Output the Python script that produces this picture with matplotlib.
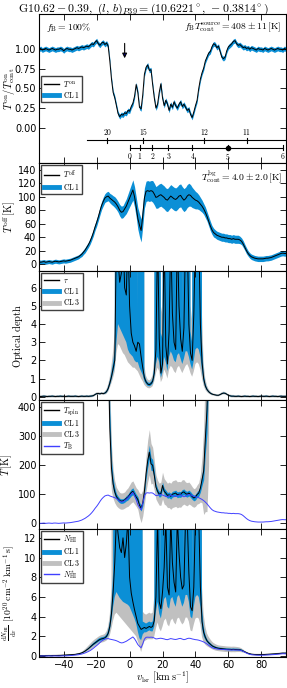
import numpy as np
import matplotlib
matplotlib.use('Agg')
import matplotlib.pyplot as plt
from matplotlib.lines import Line2D

plt.rcParams['mathtext.fontset'] = 'cm'
plt.rcParams['font.family'] = 'DejaVu Sans'

# ============================================================
#  data
# ============================================================
vel = np.arange(-55, 96)          # km/s, 1 km/s channels

# Ton / Ton_cont
ratio = [
    1.00, 1.01, 0.99, 1.00, 1.01, 1.00, 0.99, 1.00, 1.01, 1.00,   # -55
    0.99, 1.00, 1.00, 1.01, 1.00, 0.98, 1.00, 1.01, 1.00, 1.00,   # -45
    0.99, 1.00, 1.01, 1.02, 1.01, 1.02, 1.03, 1.02, 1.03, 1.04,   # -35
    1.03, 1.05, 1.07, 1.06, 1.09, 1.11, 1.07, 1.05, 1.08, 1.09,   # -25
    1.06, 1.08, 1.04, 0.85, 0.62, 0.45, 0.38, 0.28, 0.18, 0.14,   # -15
    0.17, 0.16, 0.19, 0.18, 0.22, 0.21, 0.27, 0.31, 0.40, 0.55,   # -5
    0.45, 0.26, 0.24, 0.42, 0.68, 0.77, 0.80, 0.73, 0.74, 0.55,   # 5
    0.38, 0.25, 0.30, 0.45, 0.56, 0.38, 0.28, 0.35, 0.30, 0.22,   # 15
    0.30, 0.26, 0.33, 0.28, 0.25, 0.30, 0.33, 0.27, 0.30, 0.26,   # 25
    0.22, 0.24, 0.17, 0.13, 0.20, 0.28, 0.35, 0.50, 0.62, 0.70,   # 35
    0.76, 0.85, 0.90, 0.95, 0.97, 1.03, 1.07, 1.06, 1.02, 1.04,   # 45
    0.97, 0.90, 0.88, 0.90, 0.98, 1.03, 1.05, 1.07, 1.10, 1.11,   # 55
    1.07, 1.05, 1.06, 1.04, 1.02, 1.03, 1.01, 1.02, 1.00, 1.02,   # 65
    1.01, 1.00, 0.99, 1.01, 1.00, 1.00, 0.99, 1.01, 1.00, 0.99,   # 75
    1.00, 1.01, 1.00, 0.99, 1.00, 1.01, 1.00, 1.00, 0.99, 1.01,   # 85
    1.00,
]
ratio_cl1 = 0.03

# Toff [K] and its CL1 half width
toff = [
    3.5, 3.0, 3.5, 4.0, 3.0, 3.5, 4.0, 3.5, 3.0, 4.0,
    4.5, 4.0, 3.5, 4.0, 4.5, 5.0, 4.5, 5.0, 5.5, 6.0,
    7.0, 8.0, 9.0, 10, 11, 13, 15, 18, 21, 25,
    29, 34, 40, 47, 55, 62, 70, 79, 87, 93,
    98, 100, 101, 98, 96, 94, 92, 89, 85, 80,
    77, 78, 82, 86, 92, 98, 104, 110, 100, 85,
    68, 58, 50, 72, 98, 108, 109, 108, 109, 108,
    104, 99, 100, 102, 103, 101, 99, 96, 95, 98,
    101, 99, 97, 96, 98, 101, 102, 98, 95, 97,
    101, 103, 102, 99, 97, 95, 94, 92, 89, 86,
    82, 77, 71, 64, 57, 51, 47, 45, 43, 42,
    41, 40, 40, 39, 39, 38, 38, 37, 38, 37,
    37, 37, 36, 34, 30, 25, 20, 16, 13, 11,
    10, 9, 8.5, 8, 8, 8, 8, 8.5, 9, 9,
    9.5, 10, 11, 12, 13, 14, 15, 16, 16.5, 16,
    16,
]
toff_cl1 = [
    3, 3, 3, 3, 3, 3, 3, 3, 3, 3,
    3, 3, 3, 3, 3, 3, 3, 3, 3, 3,
    3, 3, 3, 3, 3, 3, 3.5, 3.5, 4, 4,
    4, 4.5, 4.5, 5, 5, 5.5, 5.5, 6, 6, 6.5,
    6.5, 7, 7, 7, 7.5, 7.5, 8, 8, 8, 8.5,
    9, 9, 10, 11, 12, 13, 14, 15, 15, 15,
    16, 17, 17, 16, 15, 15, 15, 15, 15, 16,
    16, 16, 17, 17, 17, 17, 17, 17, 17, 17,
    17, 17, 17, 17, 17, 17, 17, 17, 17, 17,
    17, 17, 16, 15, 14, 13, 12, 11, 10, 9,
    8, 8, 7, 7, 7, 6.5, 6.5, 6, 6, 6,
    6, 6, 6, 6, 6, 6, 6, 6, 6, 6,
    6, 6, 5.5, 5, 5, 4.5, 4.5, 4, 4, 4,
    4, 4, 4, 4, 4, 4, 4, 4, 4, 4,
    4, 4, 4, 4, 4, 4, 4, 4, 4, 4,
    4,
]
tcont_bg = 4.0

# brightness temperature T_B [K]
tb = [
    0.0, -0.5, 0.0, 0.5, -0.5, 0.0, 0.5, 0.0, -0.5, 0.5,
    0.5, 0.0, -0.5, 0.0, 0.5, 1.0, 0.5, 1.0, 1.5, 2.0,
    3.0, 4.0, 5.0, 6.0, 7.0, 9.0, 11, 14, 17, 21,
    25, 30, 36, 43, 51, 58, 66, 75, 83, 89,
    94, 96, 97, 94, 92, 90, 88, 85, 81, 76,
    73, 74, 78, 82, 88, 94, 100, 106, 96, 81,
    64, 54, 46, 68, 94, 104, 105, 104, 105, 104,
    100, 95, 96, 98, 99, 97, 95, 92, 91, 94,
    97, 95, 93, 92, 94, 97, 98, 94, 91, 93,
    97, 99, 98, 95, 93, 91, 90, 88, 85, 82,
    78, 73, 67, 60, 53, 47, 43, 41, 39, 38,
    37, 36, 36, 35, 35, 34, 34, 33, 34, 33,
    33, 33, 32, 30, 26, 21, 16, 12, 9, 7,
    6, 5, 4.5, 4, 4, 4, 4, 4.5, 5, 5,
    5.5, 6, 7, 8, 9, 10, 11, 12, 12.5, 12,
    12,
]

# optical depth (values >= 9 are off the top of the panel)
tau = [
    0.02, 0.01, 0.02, 0.03, 0.02, 0.01, 0.02, 0.02, 0.03, 0.02,
    0.01, 0.02, 0.02, 0.03, 0.02, 0.02, 0.01, 0.02, 0.03, 0.02,
    0.02, 0.02, 0.03, 0.02, 0.01, 0.02, 0.03, 0.02, 0.02, 0.03,
    0.02, 0.03, 0.04, 0.06, 0.12, 0.17, 0.18, 0.16, 0.19, 0.17,
    0.20, 0.28, 0.45, 0.75, 1.10, 1.55, 2.00, 9.0, 7.5, 6.3,
    6.8, 9.0, 6.0, 5.6, 9.0, 5.0, 3.5, 3.0, 2.8, 2.5,
    3.0, 2.9, 2.2, 1.6, 1.05, 0.82, 0.70, 0.66, 0.72, 0.85,
    1.30, 2.60, 9.0, 3.2, 1.3, 1.8, 9.0, 2.8, 1.8, 3.6,
    9.0, 4.6, 3.0, 2.6, 9.0, 5.0, 3.2, 2.5, 3.8, 9.0,
    9.0, 4.0, 2.4, 2.0, 4.5, 9.0, 9.0, 9.0, 4.0, 1.9,
    1.0, 0.6, 0.4, 0.28, 0.2, 0.15, 0.12, 0.10, 0.08, 0.08,
    0.12, 0.17, 0.20, 0.19, 0.14, 0.08, 0.05, 0.03, 0.03, 0.02,
    0.02, 0.03, 0.02, 0.01, 0.02, 0.03, 0.02, 0.02, 0.01, 0.02,
    0.03, 0.02, 0.02, 0.01, 0.02, 0.03, 0.02, 0.02, 0.03, 0.02,
    0.01, 0.02, 0.03, 0.02, 0.02, 0.01, 0.02, 0.03, 0.02, 0.02,
    0.02,
]
tau_cl1_wing, tau_cl3_wing = 0.03, 0.07
vtau_core = np.arange(-20, 61)   # channels with individually read bands (99 = saturated)
tau_lo1_core = [
    0.14, 0.15, 0.13, 0.16, 0.14, 0.16, 0.22, 0.36, 0.62, 0.92,
    1.30, 1.70, 3.0, 4.0, 3.8, 3.6, 3.4, 3.2, 3.0, 2.6,
    2.4, 2.3, 2.2, 2.0, 1.9, 1.9, 1.6, 1.4, 1.2, 0.85,
    0.70, 0.60, 0.57, 0.62, 0.72, 1.05, 1.8, 2.2, 1.9, 1.05,
    1.35, 2.2, 1.9, 1.4, 2.2, 2.5, 2.3, 2.0, 1.9, 2.3,
    2.4, 2.1, 1.8, 2.1, 2.5, 2.5, 2.2, 1.8, 1.5, 2.0,
    2.6, 2.7, 2.6, 2.2, 1.4, 0.8, 0.5, 0.34, 0.24, 0.17,
    0.12, 0.10, 0.08, 0.06, 0.06, 0.10, 0.14, 0.17, 0.16, 0.12,
    0.06,
]
tau_hi1_core = [
    0.20, 0.21, 0.19, 0.22, 0.20, 0.24, 0.34, 0.55, 0.90, 1.35,
    1.9, 2.6, 99, 99, 99, 99, 99, 99, 99, 99,
    99, 99, 99, 99, 99, 4.5, 99, 99, 99, 1.3,
    0.95, 0.80, 0.76, 0.83, 1.0, 1.7, 99, 99, 99, 3.5,
    3.2, 99, 99, 99, 99, 99, 99, 99, 3.8, 99,
    99, 99, 3.5, 99, 99, 99, 99, 3.6, 3.0, 99,
    99, 99, 99, 99, 3.0, 1.3, 0.75, 0.48, 0.33, 0.24,
    0.18, 0.14, 0.12, 0.10, 0.10, 0.14, 0.20, 0.23, 0.22, 0.17,
    0.10,
]
tau_lo3_core = [
    0.10, 0.11, 0.09, 0.12, 0.10, 0.12, 0.16, 0.28, 0.50, 0.75,
    1.05, 1.40, 2.4, 2.9, 2.8, 2.6, 2.4, 2.3, 2.1, 1.9,
    1.8, 1.7, 1.6, 1.6, 1.5, 1.4, 1.2, 1.0, 0.85, 0.65,
    0.55, 0.48, 0.46, 0.50, 0.58, 0.85, 1.3, 1.6, 1.4, 0.8,
    1.0, 1.5, 1.3, 1.0, 1.5, 1.7, 1.6, 1.4, 1.3, 1.6,
    1.7, 1.5, 1.3, 1.5, 1.7, 1.8, 1.6, 1.3, 1.1, 1.4,
    1.8, 1.9, 1.8, 1.5, 1.0, 0.6, 0.38, 0.26, 0.18, 0.12,
    0.08, 0.06, 0.04, 0.02, 0.02, 0.06, 0.10, 0.13, 0.12, 0.08,
    0.03,
]
tau_hi3_core = [
    0.24, 0.25, 0.23, 0.26, 0.24, 0.29, 0.42, 0.68, 1.1, 1.7,
    2.5, 3.5, 99, 99, 99, 99, 99, 99, 99, 99,
    99, 99, 99, 99, 99, 6.0, 99, 99, 99, 1.7,
    1.15, 0.95, 0.90, 0.98, 1.2, 2.2, 99, 99, 99, 5.0,
    4.5, 99, 99, 99, 99, 99, 99, 99, 5.0, 99,
    99, 99, 4.8, 99, 99, 99, 99, 5.0, 4.2, 99,
    99, 99, 99, 99, 4.5, 1.8, 1.0, 0.62, 0.42, 0.30,
    0.22, 0.18, 0.16, 0.14, 0.14, 0.18, 0.25, 0.28, 0.26, 0.21,
    0.13,
]

# spin temperature [K] with CL1 / CL3 half widths
vspin = np.arange(-13, 49)
tspin = [
    600, 330, 190, 135, 108, 92, 84, 78, 76, 77,
    80, 86, 90, 98, 106, 110, 100, 90, 82, 62,
    52, 70, 110, 170, 215, 245, 205, 200, 165, 125,
    110, 100, 102, 130, 110, 104, 96, 98, 93, 100,
    102, 104, 98, 100, 99, 106, 108, 102, 100, 104,
    99, 92, 87, 90, 99, 104, 121, 150, 180, 290,
    390, 600,
]
tspin_cl1 = [
    100, 60, 30, 20, 14, 10, 9, 8, 8, 8,
    8, 9, 10, 11, 12, 12, 11, 10, 10, 10,
    10, 10, 13, 18, 22, 24, 22, 20, 16, 12,
    10, 10, 10, 12, 11, 10, 10, 10, 10, 10,
    10, 10, 10, 10, 10, 10, 10, 10, 10, 10,
    10, 10, 10, 10, 10, 11, 14, 20, 30, 50,
    80, 100,
]
tspin_cl3 = [
    200, 140, 80, 50, 38, 32, 30, 28, 28, 28,
    28, 30, 32, 34, 36, 36, 34, 32, 34, 42,
    50, 45, 45, 60, 72, 78, 70, 62, 52, 42,
    38, 38, 40, 46, 44, 42, 42, 44, 45, 46,
    46, 46, 45, 44, 44, 44, 42, 40, 40, 38,
    36, 34, 32, 32, 33, 36, 48, 80, 150, 250,
    350, 400,
]

# dN_HI/dv [1e20 cm^-2 km^-1 s]
nhi = [
    0.02, 0.02, 0.03, 0.02, 0.03, 0.03, 0.04, 0.03, 0.04, 0.05,
    0.05, 0.05, 0.06, 0.06, 0.07, 0.07, 0.08, 0.09, 0.10, 0.11,
    0.12, 0.14, 0.16, 0.19, 0.22, 0.26, 0.32, 0.40, 0.50, 0.62,
    0.75, 0.90, 1.05, 1.20, 1.32, 1.45, 1.58, 1.68, 1.74, 1.78,
    1.85, 2.00, 2.30, 3.00, 4.30, 6.50, 9.50, 14.0, 12.4, 11.0,
    10.5, 12.0, 10.0, 11.4, 14.0, 8.0, 6.4, 5.5, 4.7, 4.0,
    3.3, 3.0, 2.7, 2.8, 2.9, 2.8, 2.9, 3.0, 2.9, 3.0,
    3.6, 6.0, 14.0, 5.5, 4.8, 6.5, 9.0, 14.0, 7.0, 6.2,
    14.0, 9.5, 7.5, 6.5, 14.0, 10.5, 8.0, 6.8, 7.2, 14.0,
    14.0, 8.5, 5.0, 4.6, 7.0, 14.0, 14.0, 14.0, 7.0, 3.5,
    2.4, 1.9, 1.55, 1.35, 1.2, 1.05, 0.95, 0.88, 0.82, 0.78,
    0.76, 0.74, 0.72, 0.70, 0.68, 0.68, 0.67, 0.66, 0.67, 0.66,
    0.66, 0.65, 0.63, 0.58, 0.50, 0.42, 0.34, 0.27, 0.22, 0.18,
    0.16, 0.15, 0.14, 0.14, 0.14, 0.14, 0.15, 0.15, 0.16, 0.16,
    0.17, 0.18, 0.19, 0.20, 0.22, 0.24, 0.26, 0.28, 0.29, 0.29,
    0.29,
]
nhi_cl1_wing, nhi_cl3_wing = 0.03, 0.08
vnhi_core = np.arange(-30, 71)
nhi_lo1_core = [
    0.22, 0.28, 0.35, 0.44, 0.55, 0.67, 0.80, 0.93, 1.07, 1.18,
    1.30, 1.42, 1.52, 1.58, 1.62, 1.70, 1.83, 2.05, 2.6, 3.6,
    5.0, 6.0, 6.5, 6.2, 5.9, 5.7, 5.5, 5.4, 5.3, 5.2,
    5.0, 4.6, 4.2, 3.8, 3.3, 2.5, 1.8, 1.6, 2.2, 2.4,
    2.4, 2.5, 2.6, 2.5, 2.5, 3.0, 4.5, 5.5, 4.3, 3.8,
    4.8, 5.8, 6.0, 5.0, 4.8, 5.8, 6.0, 5.4, 5.0, 6.0,
    6.2, 5.6, 5.0, 5.4, 6.2, 6.2, 5.5, 4.0, 3.8, 5.0,
    6.0, 6.2, 6.0, 5.0, 2.8, 2.0, 1.65, 1.40, 1.22, 1.08,
    0.94, 0.85, 0.79, 0.73, 0.69, 0.67, 0.65, 0.63, 0.61, 0.59,
    0.59, 0.58, 0.57, 0.58, 0.57, 0.57, 0.56, 0.54, 0.49, 0.42,
    0.38,
]
nhi_hi1_core = [
    0.30, 0.36, 0.45, 0.56, 0.69, 0.83, 1.00, 1.17, 1.33, 1.46,
    1.60, 1.74, 1.84, 1.90, 1.94, 2.00, 2.20, 2.60, 3.5, 5.2,
    8.5, 99, 99, 99, 99, 99, 99, 99, 99, 99,
    99, 99, 99, 99, 99, 99, 99, 99, 3.5, 3.4,
    3.3, 3.4, 3.5, 3.4, 3.5, 4.5, 99, 99, 99, 7.0,
    99, 99, 99, 99, 99, 99, 99, 99, 9.0, 99,
    99, 99, 99, 9.5, 99, 99, 99, 99, 7.5, 99,
    99, 99, 99, 99, 5.0, 3.0, 2.2, 1.75, 1.50, 1.33,
    1.16, 1.05, 0.97, 0.91, 0.87, 0.85, 0.83, 0.81, 0.79, 0.77,
    0.77, 0.76, 0.75, 0.76, 0.75, 0.75, 0.74, 0.72, 0.67, 0.58,
    0.46,
]
nhi_lo3_core = [
    0.17, 0.21, 0.26, 0.32, 0.39, 0.48, 0.60, 0.72, 0.85, 0.97,
    1.08, 1.20, 1.30, 1.36, 1.40, 1.47, 1.57, 1.75, 2.1, 2.8,
    3.6, 4.2, 4.4, 4.2, 4.0, 3.8, 3.6, 3.4, 3.2, 3.0,
    2.8, 2.6, 2.4, 2.2, 2.0, 1.5, 1.0, 0.4, 1.0, 1.5,
    1.6, 1.7, 1.7, 1.7, 1.7, 2.0, 2.8, 3.4, 2.8, 2.5,
    3.0, 3.6, 3.8, 3.2, 3.0, 3.6, 3.8, 3.4, 3.2, 3.8,
    3.9, 3.5, 3.2, 3.4, 3.9, 3.9, 3.5, 2.6, 2.5, 3.2,
    3.8, 3.9, 3.8, 3.2, 1.9, 1.4, 1.15, 1.00, 0.90, 0.80,
    0.70, 0.62, 0.56, 0.52, 0.49, 0.47, 0.45, 0.43, 0.41, 0.40,
    0.40, 0.39, 0.38, 0.39, 0.38, 0.40, 0.40, 0.40, 0.38, 0.34,
    0.32,
]
nhi_hi3_core = [
    0.35, 0.43, 0.55, 0.70, 0.87, 1.05, 1.22, 1.40, 1.56, 1.70,
    1.82, 1.95, 2.05, 2.12, 2.16, 2.25, 2.50, 3.00, 4.2, 7.0,
    99, 99, 99, 99, 99, 99, 99, 99, 99, 99,
    99, 99, 99, 99, 99, 99, 99, 99, 4.5, 4.3,
    4.2, 4.3, 4.4, 4.3, 4.4, 6.0, 99, 99, 99, 9.5,
    99, 99, 99, 99, 99, 99, 99, 99, 11.5, 99,
    99, 99, 99, 12.0, 99, 99, 99, 99, 10.0, 99,
    99, 99, 99, 99, 7.0, 4.2, 3.0, 2.3, 1.95, 1.70,
    1.48, 1.32, 1.22, 1.14, 1.08, 1.05, 1.03, 1.01, 0.99, 0.97,
    0.96, 0.95, 0.94, 0.95, 0.94, 0.92, 0.90, 0.86, 0.78, 0.66,
    0.52,
]
NHI_CONV = 1.823e-2   # N_HI [1e20] per (K km/s), optically thin

# kinematic distance scales drawn in the top panel
r_gal_ticks = [20, 15, 12, 11]
r_gal_vel = [-13.6, 8.4, 45.5, 71.2]
r_gal_start = -25.6
dist_ticks = [0, 1, 2, 3, 4, 5, 6]
dist_vel = [0.0, 6.1, 13.8, 23.6, 38.2, 59.6, 93.1]
dist_source = 5

title = (r'${\rm G10.62-0.39},\ (l,\,b)_{P39}=(10.6221^\circ,\,-0.3814^\circ)$')

# ============================================================
#  plot
# ============================================================
C_CL1 = '#0b8fd6'
C_CL3 = '#c0c0c0'
C_TB = '#4040ff'


def band(core_v, core_vals, base, wing):
    out = np.asarray(base, float) + wing
    idx = np.searchsorted(vel, core_v)
    out[idx] = core_vals
    return out


ratio = np.array(ratio)
toff = np.array(toff)
toff_cl1 = np.array(toff_cl1)
tau = np.array(tau)
nhi = np.array(nhi)
tspin = np.array(tspin, float)
tspin_cl1 = np.array(tspin_cl1, float)
tspin_cl3 = np.array(tspin_cl3, float)

tau_lo1 = band(vtau_core, tau_lo1_core, tau, -tau_cl1_wing)
tau_hi1 = band(vtau_core, tau_hi1_core, tau, tau_cl1_wing)
tau_lo3 = band(vtau_core, tau_lo3_core, tau, -tau_cl3_wing)
tau_hi3 = band(vtau_core, tau_hi3_core, tau, tau_cl3_wing)
nhi_lo1 = band(vnhi_core, nhi_lo1_core, nhi, -nhi_cl1_wing)
nhi_hi1 = band(vnhi_core, nhi_hi1_core, nhi, nhi_cl1_wing)
nhi_lo3 = band(vnhi_core, nhi_lo3_core, nhi, -nhi_cl3_wing)
nhi_hi3 = band(vnhi_core, nhi_hi3_core, nhi, nhi_cl3_wing)
nhi_star = NHI_CONV * np.array(tb)

fig = plt.figure(figsize=(2.87, 6.88), dpi=100)
left, width = 0.136, 0.8605
bounds = [(0.7631, 0.2166), (0.6061, 0.1570), (0.4186, 0.1875),
          (0.2311, 0.1875), (0.0451, 0.1860)]
axes = [fig.add_axes([left, b, width, h]) for b, h in bounds]

for ax in axes:
    ax.set_xlim(-55, 95)
    ax.set_xticks(np.arange(-40, 81, 20))
    ax.tick_params(direction='in', top=True, right=True, length=4,
                   width=0.6, labelsize=7, pad=2)
    for sp in ax.spines.values():
        sp.set_linewidth(0.8)
    if ax is not axes[-1]:
        ax.set_xticklabels([])

leg_kw = dict(loc='upper left', fontsize=5.5, frameon=True, fancybox=False,
              edgecolor='0.25', framealpha=1, handlelength=1.9,
              borderpad=0.35, labelspacing=0.15, handletextpad=0.6,
              borderaxespad=0.3)
h_cl1 = Line2D([], [], color=C_CL1, lw=3.5)
h_cl3 = Line2D([], [], color=C_CL3, lw=3.5)

# --- panel 1: Ton / Ton_cont
ax = axes[0]
ax.fill_between(vel, ratio - ratio_cl1, ratio + ratio_cl1, color=C_CL1, lw=0)
ax.plot(vel, ratio, 'k-', lw=0.7)
ax.set_ylim(-0.45, 1.45)
ax.set_yticks([0, 0.25, 0.5, 0.75, 1.0])
ax.set_yticklabels(['0.00', '0.25', '0.50', '0.75', '1.00'])
ax.set_ylabel(r'$T^{\rm on}/T^{\rm on}_{\rm cont}$', fontsize=7.5)
ax.yaxis.set_label_coords(-0.09, 0.5)
ax.text(0.03, 0.955, r'$f_{\rm B}=100\%$', transform=ax.transAxes,
        fontsize=7, ha='left', va='top')
ax.text(0.98, 0.955, r'$f_{\rm B}T^{\rm source}_{\rm cont}=408\pm11\,[{\rm K}]$',
        transform=ax.transAxes, fontsize=7, ha='right', va='top')
ax.annotate('', xy=(-3, 0.85), xytext=(-3, 1.11),
            arrowprops=dict(arrowstyle='-|>', color='k', lw=0.8,
                            fc='navy', mutation_scale=7))
ax.legend([Line2D([], [], color='k', lw=1), h_cl1],
          [r'$T^{\rm on}$', r'${\rm CL\,1}$'],
          bbox_to_anchor=(0.0, 0.6), **leg_kw)
# distance scales
y1, y2, tk = -0.16, -0.257, 0.03
ax.plot([r_gal_start, 95], [y1, y1], 'k-', lw=0.8)
for lab, v in zip(r_gal_ticks, r_gal_vel):
    ax.plot([v, v], [y1 - tk, y1 + tk], 'k-', lw=0.8)
    ax.text(v, y1 + 0.045, r'$%d$' % lab, fontsize=5.5, ha='center', va='bottom')
ax.plot([dist_vel[0], dist_vel[-1]], [y2, y2], 'k-', lw=0.8)
for lab, v in zip(dist_ticks, dist_vel):
    ax.plot([v, v], [y2 - tk, y2 + tk], 'k-', lw=0.8)
    ax.text(v, y2 - 0.045, r'$%d$' % lab, fontsize=5.5, ha='center', va='top')
ax.plot(dist_vel[dist_source], y2, 'ko', ms=3)

# --- panel 2: Toff
ax = axes[1]
ax.fill_between(vel, toff - toff_cl1, toff + toff_cl1, color=C_CL1, lw=0)
ax.plot(vel, toff, 'k-', lw=0.7)
ax.set_ylim(-10, 150)
ax.set_yticks(np.arange(0, 141, 20))
ax.set_ylabel(r'$T^{\rm off}\,[{\rm K}]$', fontsize=7.5)
ax.yaxis.set_label_coords(-0.085, 0.5)
ax.text(0.985, 0.94, r'$T^{\rm bg}_{\rm cont}=4.0\pm2.0\,[{\rm K}]$',
        transform=ax.transAxes, fontsize=7, ha='right', va='top')
ax.legend([Line2D([], [], color='k', lw=1), h_cl1],
          [r'$T^{\rm off}$', r'${\rm CL\,1}$'], **leg_kw)

# --- panel 3: optical depth
ax = axes[2]
ax.fill_between(vel, tau_lo3, tau_hi3, color=C_CL3, lw=0)
ax.fill_between(vel, tau_lo1, tau_hi1, color=C_CL1, lw=0)
ax.plot(vel, tau, 'k-', lw=0.7)
ax.set_ylim(-0.18, 6.92)
ax.set_yticks(np.arange(0, 7, 1))
ax.set_ylabel(r'${\rm Optical\ depth}$', fontsize=7.5)
ax.yaxis.set_label_coords(-0.055, 0.5)
ax.legend([Line2D([], [], color='k', lw=1), h_cl1, h_cl3],
          [r'$\tau$', r'${\rm CL\,1}$', r'${\rm CL\,3}$'], **leg_kw)

# --- panel 4: temperatures
ax = axes[3]
ax.fill_between(vspin, tspin - tspin_cl3, tspin + tspin_cl3, color=C_CL3, lw=0)
ax.fill_between(vspin, tspin - tspin_cl1, tspin + tspin_cl1, color=C_CL1, lw=0)
ax.plot(vspin, tspin, 'k-', lw=0.7)
ax.plot(vel, tb, '-', color=C_TB, lw=0.7)
ax.set_ylim(-20, 425)
ax.set_yticks(np.arange(0, 401, 100))
ax.set_ylabel(r'$T\,[{\rm K}]$', fontsize=7.5)
ax.yaxis.set_label_coords(-0.1, 0.5)
ax.legend([Line2D([], [], color='k', lw=1), h_cl1, h_cl3,
           Line2D([], [], color=C_TB, lw=1)],
          [r'$T_{\rm spin}$', r'${\rm CL\,1}$', r'${\rm CL\,3}$', r'$T_{\rm B}$'],
          **leg_kw)

# --- panel 5: column density
ax = axes[4]
ax.fill_between(vel, nhi_lo3, nhi_hi3, color=C_CL3, lw=0)
ax.fill_between(vel, nhi_lo1, nhi_hi1, color=C_CL1, lw=0)
ax.plot(vel, nhi, 'k-', lw=0.7)
ax.plot(vel, nhi_star, '-', color=C_TB, lw=0.7)
ax.set_ylim(-0.1, 12.9)
ax.set_yticks(np.arange(0, 13, 2))
ax.set_ylabel(r'$\frac{{\rm d}N_{\rm HI}}{{\rm d}v}\ [10^{20}\,{\rm cm}^{-2}\,{\rm km}^{-1}\,{\rm s}]$',
              fontsize=7)
ax.yaxis.set_label_coords(-0.08, 0.5)
ax.set_xlabel(r'$v_{\rm lsr}\ [{\rm km\,s}^{-1}]$', fontsize=7.5, labelpad=0.5)
ax.legend([Line2D([], [], color='k', lw=1), h_cl1, h_cl3,
           Line2D([], [], color=C_TB, lw=1)],
          [r'$N_{\rm HI}$', r'${\rm CL\,1}$', r'${\rm CL\,3}$', r'$N^{*}_{\rm HI}$'],
          **leg_kw)

fig.text(0.5, 0.997, title, ha='center', va='top', fontsize=8.5)

fig.savefig('out.png', dpi=100)
